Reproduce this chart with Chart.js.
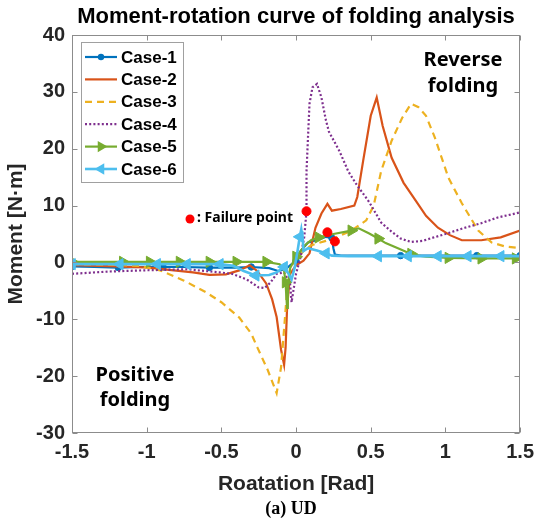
<!DOCTYPE html>
<html><head><meta charset="utf-8">
<script src="https://cdn.jsdelivr.net/npm/chart.js@4.4.1/dist/chart.umd.min.js"></script>
<style>html,body{margin:0;padding:0;background:#fff;}canvas{display:block;}</style>
</head><body>
<canvas id="c" width="541" height="520"></canvas>
<script>
// ---------- data ----------
const xTickValues = [-1.5, -1, -0.5, 0, 0.5, 1, 1.5];
const xTickLabels = ['-1.5', '-1', '-0.5', '0', '0.5', '1', '1.5'];
const yTickValues = [-30, -20, -10, 0, 10, 20, 30, 40];
const yTickLabels = ['-30', '-20', '-10', '0', '10', '20', '30', '40'];
const caseNames = ['Case-1', 'Case-2', 'Case-3', 'Case-4', 'Case-5', 'Case-6'];

const case1X = [-1.5, -1.35, -1.19, -1.05, -0.89, -0.75, -0.58, -0.4, -0.3, -0.18, -0.12, -0.07, -0.04, 0, 0.03, 0.08, 0.15, 0.2, 0.24, 0.25, 0.26, 0.3, 0.45, 0.7, 0.95, 1.21, 1.5];
const case1Y = [-0.7, -0.8, -0.9, -0.8, -0.8, -0.8, -0.9, -0.9, -0.8, -1.0, -1.5, -1.2, -0.5, 0.3, 2.0, 3.5, 4.0, 4.5, 4.3, 2.5, 1.4, 1.2, 1.2, 1.2, 1.2, 1.2, 1.2];

const case2X = [-1.5, -1.2, -0.98, -0.85, -0.69, -0.58, -0.47, -0.38, -0.31, -0.26, -0.2, -0.16, -0.13, -0.1, -0.08, -0.07, -0.06, -0.04, 0, 0.05, 0.09, 0.13, 0.17, 0.21, 0.24, 0.3, 0.39, 0.41, 0.45, 0.5, 0.54, 0.58, 0.64, 0.72, 0.8, 0.87, 0.95, 1.03, 1.11, 1.24, 1.37, 1.5];
const case2Y = [-0.5, -0.7, -0.9, -1.3, -1.75, -2.2, -2.1, -1.4, -0.5, -1.5, -3.7, -6.5, -9.6, -15.4, -18, -15, -8, -2, -0.5, 0.3, 1.6, 6.1, 8.6, 10.3, 9.1, 9.4, 10, 11.5, 18, 25.8, 29, 24, 18.4, 14, 10.9, 8.2, 6.1, 4.8, 3.9, 3.9, 4.4, 5.6];

const case3X = [-1.5, -1.25, -1.05, -0.91, -0.75, -0.6, -0.5, -0.38, -0.3, -0.26, -0.19, -0.13, -0.1, -0.075, -0.055, -0.03, 0, 0.05, 0.1, 0.2, 0.27, 0.37, 0.47, 0.52, 0.57, 0.64, 0.71, 0.77, 0.82, 0.87, 0.93, 1.02, 1.11, 1.22, 1.31, 1.4, 1.5];
const case3Y = [-0.3, -0.4, -0.6, -1.4, -3.2, -5.3, -7.0, -9.7, -12.5, -14.9, -18.9, -23, -18.4, -10, -3, -0.5, 0.5, 2, 3, 3.8, 4.4, 5.6, 7.4, 10, 16.1, 21.4, 25.4, 27.9, 27.3, 25.8, 21.9, 14.9, 10.4, 5.6, 3.5, 2.8, 2.5];

const case4X = [-1.5, -1.25, -1.03, -0.73, -0.51, -0.43, -0.33, -0.25, -0.21, -0.17, -0.13, -0.08, -0.04, -0.03, -0.015, 0, 0.03, 0.055, 0.07, 0.07, 0.08, 0.09, 0.11, 0.14, 0.17, 0.2, 0.22, 0.29, 0.35, 0.4, 0.49, 0.57, 0.64, 0.7, 0.77, 0.85, 0.91, 1.0, 1.13, 1.24, 1.35, 1.5];
const case4Y = [-2, -1.6, -1.4, -1.2, -1.75, -2, -3, -4.4, -4.5, -3.5, -2, -1.75, -3.7, -7, -4.5, -2, 0.9, 4.5, 9, 16, 22, 27.9, 30.8, 31.4, 29, 25, 23, 19.6, 16, 13.9, 10.6, 7, 5.4, 4.2, 3.6, 3.8, 4.3, 5, 6.1, 6.9, 7.9, 8.8];

const case5X = [-1.5, -1.33, -1.16, -0.98, -0.78, -0.58, -0.4, -0.2, -0.11, -0.08, -0.07, -0.065, -0.06, -0.055, -0.05, -0.04, -0.02, 0, 0.03, 0.06, 0.1, 0.15, 0.25, 0.37, 0.42, 0.49, 0.55, 0.6, 0.69, 0.77, 0.82, 0.87, 1.02, 1.24, 1.47, 1.5];
const case5Y = [0.1, 0.1, 0.1, 0.1, 0.1, 0.1, 0.1, 0.1, -0.3, -1.5, -3.5, -6, -8, -5.5, -3, -1, 0, 1, 2, 3, 3.9, 4.4, 5, 5.6, 6, 5.1, 4.2, 3.4, 2.4, 1.5, 1.2, 1.0, 0.8, 0.7, 0.7, 0.7];

const case6X = [-1.5, -1.38, -1.18, -0.93, -0.73, -0.51, -0.42, -0.35, -0.27, -0.18, -0.13, -0.08, -0.05, -0.03, -0.01, 0.01, 0.025, 0.035, 0.045, 0.05, 0.08, 0.14, 0.2, 0.24, 0.35, 0.55, 0.75, 0.95, 1.15, 1.37, 1.5];
const case6Y = [-0.3, -0.3, -0.3, -0.3, -0.3, -0.3, -0.6, -1.5, -2.3, -2.2, -1.75, -0.8, -2, -3, -1, 2, 4.5, 5.8, 4, 2, 2.5, 2.1, 1.6, 1.2, 1.1, 1.1, 1.1, 1.1, 1.1, 1.1, 1.1];

const failureX = [0.07, 0.21, 0.26];
const failureY = [9, 5.3, 3.7];

const seriesX = [case1X, case2X, case3X, case4X, case5X, case6X];
const seriesY = [case1Y, case2Y, case3Y, case4Y, case5Y, case6Y];

// ---------- styles ----------
const styles = [
  {color: '#0072BD', dash: [], width: 2.2, pstyle: 'circle', rot: 0, r: 3.2, gap: 40},
  {color: '#D95319', dash: [], width: 2.2, pstyle: false, rot: 0, r: 0, gap: 0},
  {color: '#EDB120', dash: [7, 5], width: 2.2, pstyle: false, rot: 0, r: 0, gap: 0},
  {color: '#7E2F8E', dash: [2, 2.2], width: 2.2, pstyle: false, rot: 0, r: 0, gap: 0},
  {color: '#77AC30', dash: [], width: 2.2, pstyle: 'triangle', rot: 90, r: 6.5, gap: 26},
  {color: '#4DBEEE', dash: [], width: 2.6, pstyle: 'triangle', rot: -90, r: 6.5, gap: 26}
];

function zip(xs, ys) { return xs.map((v, i) => ({x: v, y: ys[i]})); }

function markerRadius(r, gap) {
  return function (ctx) {
    if (!r) return 0;
    if (ctx.type !== 'data') return r;
    const chart = ctx.chart;
    const ds = chart.data.datasets[ctx.datasetIndex];
    const xs = chart.scales.x, ys = chart.scales.y;
    let last = null;
    for (let i = 0; i <= ctx.dataIndex; i++) {
      const p = ds.data[i];
      const px = xs.getPixelForValue(p.x), py = ys.getPixelForValue(p.y);
      if (!last || Math.hypot(px - last[0], py - last[1]) >= gap) {
        last = [px, py];
        if (i === ctx.dataIndex) return r;
      }
    }
    return 0;
  };
}

const datasets = seriesX.map((xs, i) => {
  const s = styles[i];
  return {
    label: caseNames[i],
    data: zip(xs, seriesY[i]),
    showLine: true,
    borderColor: s.color,
    backgroundColor: s.color,
    borderWidth: s.width,
    borderDash: s.dash,
    borderCapStyle: 'butt',
    pointStyle: s.pstyle || 'circle',
    rotation: s.rot,
    pointRadius: markerRadius(s.r, s.gap),
    pointHoverRadius: 0,
    pointBackgroundColor: s.color,
    pointBorderColor: s.color,
    pointBorderWidth: 1,
    tension: 0,
    order: 10 - i
  };
});
datasets.push({
  label: 'Failure point',
  data: zip(failureX, failureY),
  showLine: false,
  pointRadius: 4.5,
  pointHoverRadius: 0,
  pointBackgroundColor: '#FF0000',
  pointBorderColor: '#FF0000',
  order: 0
});

const FONT = '"Liberation Sans", Arial, sans-serif';
const AFONT = '"Noto Sans", "Liberation Sans", sans-serif';

function drawMarker(ctx, style, cx, cy) {
  ctx.fillStyle = style.color;
  ctx.beginPath();
  if (style.pstyle === 'circle') {
    ctx.arc(cx, cy, style.r, 0, Math.PI * 2);
  } else {
    let rad = style.rot * Math.PI / 180;
    for (let k = 0; k < 3; k++) {
      const px = cx + Math.sin(rad) * style.r, py = cy - Math.cos(rad) * style.r;
      if (k === 0) ctx.moveTo(px, py); else ctx.lineTo(px, py);
      rad += Math.PI * 2 / 3;
    }
    ctx.closePath();
  }
  ctx.fill();
}

const decor = {
  id: 'decor',
  afterDraw(chart) {
    const {ctx, chartArea: a, scales: {x, y}} = chart;
    ctx.save();
    // frame
    ctx.strokeStyle = '#8c8c8c';
    ctx.lineWidth = 1;
    ctx.setLineDash([]);
    const L = Math.round(a.left) + 0.5, R = Math.round(a.right) - 0.5;
    const T = Math.round(a.top) + 0.5, B = Math.round(a.bottom) - 0.5;
    ctx.strokeRect(L, T, R - L, B - T);
    ctx.beginPath();
    xTickValues.forEach(v => {
      const px = Math.round(x.getPixelForValue(v)) + 0.5;
      ctx.moveTo(px, B); ctx.lineTo(px, B - 5);
      ctx.moveTo(px, T); ctx.lineTo(px, T + 5);
    });
    yTickValues.forEach(v => {
      const py = Math.round(y.getPixelForValue(v)) + 0.5;
      ctx.moveTo(L, py); ctx.lineTo(L + 5, py);
      ctx.moveTo(R, py); ctx.lineTo(R - 5, py);
    });
    ctx.stroke();

    // title
    ctx.fillStyle = '#000';
    ctx.textAlign = 'center';
    ctx.textBaseline = 'middle';
    ctx.font = 'bold 22px ' + FONT;
    ctx.fillText('Moment-rotation curve of folding analysis', (a.left + a.right) / 2, 17);

    // caption
    ctx.font = 'bold 18px "Liberation Serif", "Times New Roman", serif';
    ctx.fillText('(a) UD', 291, 509);

    // annotations
    ctx.font = 'bold 20px ' + AFONT;
    ctx.fillText('Reverse', 463, 60);
    ctx.fillText('folding', 463, 86);
    ctx.fillText('Positive', 135, 375);
    ctx.fillText('folding', 135, 400);

    ctx.fillStyle = '#FF0000';
    ctx.beginPath(); ctx.arc(190, 219, 4.5, 0, Math.PI * 2); ctx.fill();
    ctx.fillStyle = '#000';
    ctx.textAlign = 'left';
    ctx.font = 'bold 14px ' + AFONT;
    ctx.fillText(': Failure point', 197, 218);

    // legend
    const lx = 81, ly = 42, lw = 102, lh = 140;
    ctx.fillStyle = '#fff';
    ctx.fillRect(lx, ly, lw, lh);
    ctx.strokeStyle = '#a0a0a0';
    ctx.lineWidth = 1;
    ctx.strokeRect(lx + 0.5, ly + 0.5, lw, lh);
    styles.forEach((s, i) => {
      const yy = 57 + i * 22.4;
      ctx.strokeStyle = s.color;
      ctx.lineWidth = s.width;
      ctx.setLineDash(s.dash);
      ctx.lineCap = 'butt';
      ctx.beginPath(); ctx.moveTo(85, yy); ctx.lineTo(117, yy); ctx.stroke();
      ctx.setLineDash([]);
      if (s.pstyle) drawMarker(ctx, s, 101, yy);
      ctx.fillStyle = '#000';
      ctx.font = 'bold 17px ' + FONT;
      ctx.textAlign = 'left';
      ctx.textBaseline = 'middle';
      ctx.fillText(caseNames[i], 121, yy + 1);
    });
    ctx.restore();
  }
};

new Chart(document.getElementById('c'), {
  type: 'scatter',
  data: {datasets},
  options: {
    responsive: false,
    animation: false,
    devicePixelRatio: 1,
    events: [],
    layout: {padding: {top: 35, right: 19, left: 0, bottom: 0}},
    plugins: {legend: {display: false}, tooltip: {enabled: false}, title: {display: false}},
    scales: {
      x: {
        type: 'linear', min: -1.5, max: 1.5,
        afterFit: s => { s.height = 87; },
        afterBuildTicks: s => { s.ticks = xTickValues.map(v => ({value: v})); },
        grid: {display: false, drawTicks: false},
        border: {display: false},
        ticks: {
          padding: 7, color: '#262626', maxRotation: 0, autoSkip: false,
          font: {family: FONT, size: 20, weight: 'bold'},
          callback: v => xTickLabels[xTickValues.indexOf(v)]
        },
        title: {display: true, text: 'Roatation [Rad]', color: '#262626',
          font: {family: FONT, size: 21, weight: 'bold'}, padding: {top: 0, bottom: 23}}
      },
      y: {
        type: 'linear', min: -30, max: 40,
        afterFit: s => { s.width = 72; },
        afterBuildTicks: s => { s.ticks = yTickValues.map(v => ({value: v})); },
        grid: {display: false, drawTicks: false},
        border: {display: false},
        ticks: {
          padding: 7, color: '#262626', autoSkip: false,
          font: {family: FONT, size: 20, weight: 'bold'},
          callback: v => yTickLabels[yTickValues.indexOf(v)]
        },
        title: {display: true, text: 'Moment [N·m]', color: '#262626',
          font: {family: FONT, size: 21, weight: 'bold'}, padding: {top: 4, bottom: 0}}
      }
    }
  },
  plugins: [decor]
});
</script>
</body></html>
